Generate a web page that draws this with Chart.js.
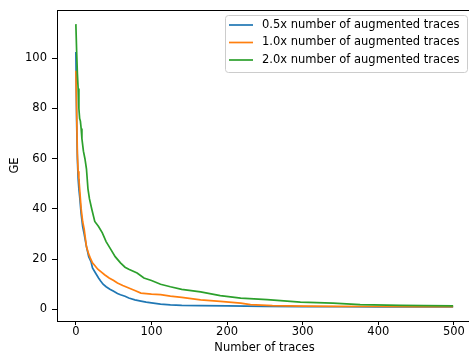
<!DOCTYPE html>
<html>
<head>
<meta charset="utf-8">
<script src="https://cdn.jsdelivr.net/npm/chart.js@4"></script>
<style>
  html, body { margin:0; padding:0; background:#fff; overflow:hidden; }
  #wrap { width:480px; height:361px; }
</style>
</head>
<body>
<div id="wrap"><canvas id="chart" width="480" height="361"></canvas></div>
<script>
// Data
const seriesLabels = ['0.5x number of augmented traces', '1.0x number of augmented traces', '2.0x number of augmented traces'];
const seriesColors = ['#1f77b4', '#ff7f0e', '#2ca02c'];

const blueX = [0,1,2,3,4,5,7,9,11,14,17,20,22,25,27,30,33,36,40,45,50,55,59,65,70,78,86,93,100,112,125,140,165,200,250,300,350,400,450,499];
const blueY = [102.5,75,60,52,48,45,38,33,30,25,21,19,16.5,15,14,12.5,11.2,10,9,8,7.2,6.3,5.8,5.2,4.5,3.8,3.3,2.9,2.6,2.1,1.8,1.6,1.5,1.4,1.2,1.1,1.05,1.0,1.0,1.0];

const orangeX = [0,1,2,3,4,5,7,9,11,14,17,19,22,25,29,33,38,44,50,55,62,70,78,86,100,112,125,140,165,191,218,231,260,300,350,400,450,499];
const orangeY = [95,80,62,55,52,48,40,35,32,25,22,20.5,18.5,17.5,16,15,13.8,12.5,11.5,10.5,9.5,8.5,7.5,6.5,6.1,5.9,5.3,4.8,3.8,3.2,2.5,1.9,1.5,1.3,1.2,1.15,1.1,1.1];

const greenX = [0,1,2,3,4,5,6,7,8,10,12,14,16,18,21,25,30,35,40,46,52,59,65,70,81,90,100,112,125,140,165,191,218,253,297,340,376,429,460,499];
const greenY = [113.6,103,94,88,80,76,75,72,68,63,60,56,48,44,40,35,33,30.5,27,24,21,18.5,16.8,16,14.5,12.5,11.5,10,9,8,7,5.5,4.5,3.9,2.9,2.5,1.9,1.6,1.5,1.4];

const xTicks = [0,100,200,300,400,500];
const yTicks = [0,20,40,60,80,100];

const FONT = 'DejaVu Sans';
const FS = 11.5;

function pts(xs, ys){ return xs.map((x,i)=>({x:x, y:ys[i]})); }

// matplotlib-like 5% margins
const allX = blueX.concat(orangeX, greenX);
const allY = blueY.concat(orangeY, greenY);
const xMin = Math.min(...allX), xMax = Math.max(...allX);
const yMin = Math.min(...allY), yMax = Math.max(...allY);
const xPad = (xMax - xMin) * 0.05, yPad = (yMax - yMin) * 0.05;

const frame = {
  id:'frame',
  afterDatasetsDraw(chart){
    const {ctx, chartArea:a} = chart;
    ctx.save();
    ctx.strokeStyle = '#000'; ctx.lineWidth = 1;
    ctx.strokeRect(a.left + 0.5, a.top + 0.5, a.right - a.left, a.bottom - a.top);
    ctx.restore();
  }
};

const legendBox = {
  id:'legendBox',
  afterDraw(chart){
    const ctx = chart.ctx;
    const bx = 225, by = 15, bw = 242, bh = 57, r = 3;
    ctx.save();
    ctx.beginPath();
    ctx.roundRect(bx + 0.5, by + 0.5, bw, bh, r);
    ctx.fillStyle = 'rgba(255,255,255,0.8)';
    ctx.fill();
    ctx.strokeStyle = '#cccccc'; ctx.lineWidth = 1;
    ctx.stroke();
    ctx.font = FS + 'px "' + FONT + '"';
    ctx.textBaseline = 'middle';
    ctx.fillStyle = '#000';
    const rows = [25, 42.5, 60];
    seriesLabels.forEach((lab, i)=>{
      ctx.beginPath();
      ctx.moveTo(229, rows[i]); ctx.lineTo(253, rows[i]);
      ctx.strokeStyle = seriesColors[i]; ctx.lineWidth = 1.7;
      ctx.stroke();
      ctx.fillText(lab, 262, rows[i]);
    });
    ctx.restore();
  }
};

new Chart(document.getElementById('chart'), {
  type:'line',
  data:{
    datasets:[
      {label:seriesLabels[0], data:pts(blueX, blueY), borderColor:seriesColors[0], order:2},
      {label:seriesLabels[1], data:pts(orangeX, orangeY), borderColor:seriesColors[1], order:1},
      {label:seriesLabels[2], data:pts(greenX, greenY), borderColor:seriesColors[2], order:0}
    ]
  },
  options:{
    responsive:false, animation:false, devicePixelRatio:1,
    layout:{padding:{top:10, right:8, left:0, bottom:0}},
    elements:{line:{borderWidth:1.7, tension:0}, point:{radius:0}},
    plugins:{legend:{display:false}, tooltip:{enabled:false}},
    scales:{
      x:{
        type:'linear', min:xMin - xPad, max:xMax + xPad,
        afterBuildTicks:s=>{ s.ticks = xTicks.map(v=>({value:v})); },
        afterFit:s=>{ s.height = 40; s.paddingLeft = 0; s.paddingRight = 0; },
        grid:{drawOnChartArea:false, drawTicks:true, tickLength:4, color:'#000'},
        border:{display:true, color:'#000', width:1},
        ticks:{padding:0, color:'#000', font:{family:FONT, size:FS}, maxRotation:0},
        title:{display:true, text:'Number of traces', color:'#000', font:{family:FONT, size:FS}, padding:{top:0, bottom:6}}
      },
      y:{
        type:'linear', min:yMin - yPad, max:yMax + yPad,
        afterBuildTicks:s=>{ s.ticks = yTicks.map(v=>({value:v})); },
        afterFit:s=>{ s.width = 57; s.paddingTop = 0; s.paddingBottom = 0; },
        grid:{drawOnChartArea:false, drawTicks:true, tickLength:5, color:'#000'},
        border:{display:true, color:'#000', width:1},
        ticks:{padding:5, color:'#000', font:{family:FONT, size:FS}},
        title:{display:true, text:'GE', color:'#000', font:{family:FONT, size:FS}, padding:{top:8, bottom:0}}
      }
    }
  },
  plugins:[frame, legendBox]
});
</script>
</body>
</html>
